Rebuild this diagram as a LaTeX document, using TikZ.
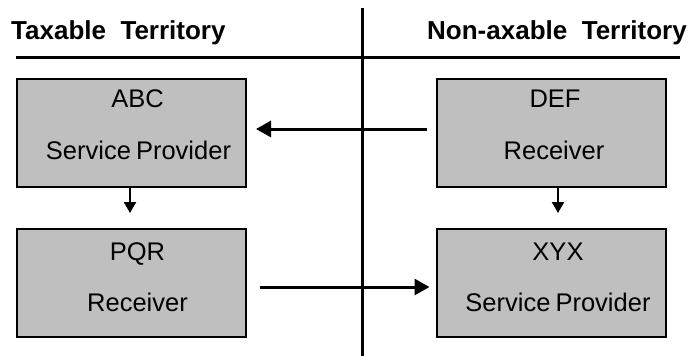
\documentclass[tikz,border=0pt]{standalone}
\usepackage{fontspec}
\setmainfont{Liberation Sans}
\usetikzlibrary{arrows.meta}

\begin{document}
\begin{tikzpicture}[x=1pt,y=-1pt,
  party/.style={draw=black, fill=black!25, line width=2pt,
    minimum width=229pt, minimum height=108pt, inner sep=0pt},
  words/.style={anchor=base, font=\fontsize{25.5}{30}\selectfont, inner sep=0pt},
  heading/.style={anchor=base west, font=\fontsize{26}{31}\selectfont\bfseries, inner sep=0pt},
  rule/.style={line width=3pt},
  flow/.style={line width=3pt, -{Triangle[length=15pt,width=16pt]}},
  drop/.style={line width=2.4pt, -{Triangle[length=11pt,width=12pt]}}]
  \useasboundingbox (0,0) rectangle (689,356);

  \node[heading] (left) at (11,39) {Taxable~~Territory};
  \node[heading] (right) at (427,39) {Non-axable~~Territory};
  \draw[rule] (16,57) -- (680,57);
  \draw[rule] (362,8) -- (362,356);

  \node[party] (abc) at (131.5,133) {};
  \node[party] (def) at (551,133) {};
  \node[party] (pqr) at (131.5,283) {};
  \node[party] (xyx) at (551,283) {};

  \node[words] (abc1) at ([shift={(6,-26)}]abc.center) {ABC};
  \node[words] (abc2) at ([shift={(7,26)}]abc.center) {Service\hspace{-2pt} Provider};
  \node[words] (def1) at ([shift={(4,-26)}]def.center) {DEF};
  \node[words] (def2) at ([shift={(3,26)}]def.center) {Receiver};
  \node[words] (pqr1) at ([shift={(6,-23)}]pqr.center) {PQR};
  \node[words] (pqr2) at ([shift={(6,28)}]pqr.center) {Receiver};
  \node[words] (xyx1) at ([shift={(7,-23)}]xyx.center) {XYX};
  \node[words] (xyx2) at ([shift={(7,28)}]xyx.center) {Service\hspace{-2pt} Provider};

  \draw[flow] ([shift={(-9,-4)}]def.west) -- ([shift={(9,-4)}]abc.east);
  \draw[flow] ([shift={(13,4)}]pqr.east) -- ([shift={(-6,4)}]xyx.west);
  \draw[drop] ([xshift=-1.5pt]abc.south) -- ([shift={(-1.5,-15)}]pqr.north);
  \draw[drop] ([xshift=7pt]def.south) -- ([shift={(7,-15)}]xyx.north);

\end{tikzpicture}
\end{document}
